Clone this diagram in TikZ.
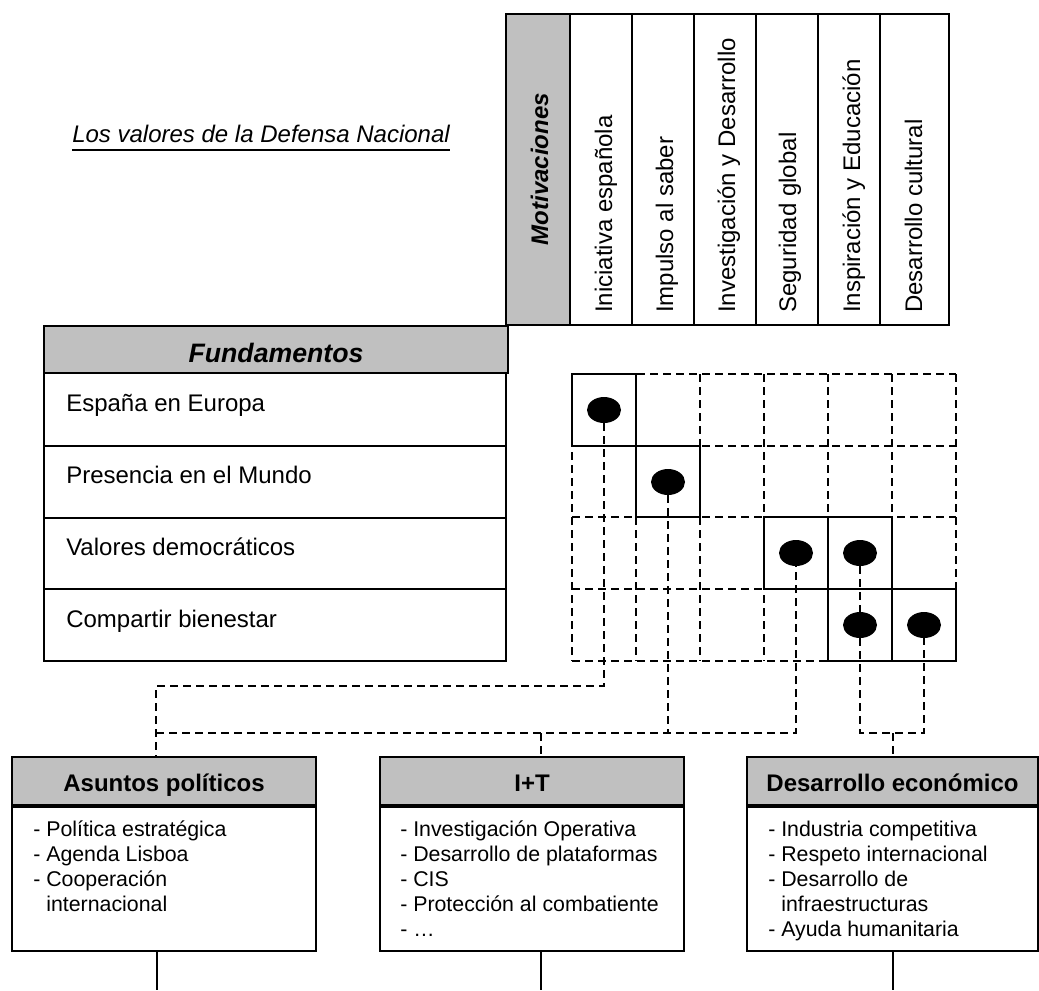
\documentclass[tikz,border=0pt]{standalone}
\usepackage{fontspec}
\setmainfont{Liberation Sans}
\usetikzlibrary{shapes.geometric}
\definecolor{hdrgray}{RGB}{192,192,192}
\newcommand\fbig{\fontsize{18}{21.6}\selectfont}
\newcommand\ffund{\fontsize{20}{24}\selectfont}
\newcommand\fsmall{\fontsize{16}{18.75}\selectfont}
\begin{document}
\begin{tikzpicture}[x=0.75pt, y=-0.75pt,
  frame/.style={draw=black, line width=1.3pt},
  dl/.style={draw=black, line width=1.3pt, dash pattern=on 6pt off 3.75pt},
  dotn/.style={ellipse, fill=black, minimum width=25.5pt, minimum height=19.5pt, inner sep=0pt},
  txt/.style={inner sep=0pt, font=\fbig},
  vtxt/.style={inner sep=0pt, font=\fbig, rotate=90, anchor=base west},
  rowtxt/.style={inner sep=0pt, font=\fbig, anchor=base west},
  hdrbox/.style={frame, fill=hdrgray, minimum height=36pt, inner sep=0pt},
  bodybox/.style={frame, fill=white, minimum height=108pt, inner sep=0pt, anchor=north},
  hdrtxt/.style={inner sep=0pt, font=\fbig\bfseries, anchor=base},
  listtxt/.style={inner sep=0pt, font=\fsmall, anchor=base west},
  trunk/.style={draw=black, line width=2.2pt}
]
\useasboundingbox (0,0) rectangle (1039,990);

% ---- title ----
\node[txt, font=\fbig\itshape, anchor=base west] (title) at (72,142) {Los valores de la Defensa Nacional};
\draw[line width=1.2pt] ([yshift=-6pt]title.base west) -- ([yshift=-6pt]title.base east);

% ---- Motivaciones header ----
\draw[frame, fill=hdrgray] (506,14) rectangle (570,325);
\draw[frame] (570,14) rectangle (949,325);
\foreach \cx in {632,694,756,818,880} \draw[frame] (\cx,14) -- (\cx,325);
\node[txt, font=\fbig\bfseries\itshape, rotate=90, anchor=base] (motiv) at (548,169) {Motivaciones};
\node[vtxt] (m1) at (612,313) {Iniciativa española};
\node[vtxt] (m2) at (673,313) {Impulso al saber};
\node[vtxt] (m3) at (735,313) {Investigación y Desarrollo};
\node[vtxt] (m4) at (796,313) {Seguridad global};
\node[vtxt] (m5) at (860,313) {Inspiración y Educación};
\node[vtxt] (m6) at (922,313) {Desarrollo cultural};

% ---- Fundamentos table ----
\draw[frame, fill=hdrgray] (44,326) rectangle (508,373);
\node[txt, font=\ffund\bfseries\itshape, anchor=base] (fund) at (276,362) {Fundamentos};
\draw[frame] (44,373) rectangle (506,661);
\foreach \ry in {446,518,589} \draw[frame] (44,\ry) -- (506,\ry);
\node[rowtxt] (f1) at (66,411) {España en Europa};
\node[rowtxt] (f2) at (66,483) {Presencia en el Mundo};
\node[rowtxt] (f3) at (66,555) {Valores democráticos};
\node[rowtxt] (f4) at (66,627) {Compartir bienestar};

% ---- relation grid ----
\foreach \gy in {374,446,517,589,661} \draw[dl] (572,\gy) -- (956,\gy);
\foreach \gx in {572,636,700,764,828,892,956} \draw[dl] (\gx,374) -- (\gx,661);
\draw[frame] (572,374) rectangle (636,446);
\draw[frame] (636,446) rectangle (700,517);
\draw[frame] (764,517) rectangle (828,589);
\draw[frame] (828,517) rectangle (892,589);
\draw[frame] (828,589) rectangle (892,661);
\draw[frame] (892,589) rectangle (956,661);
\node[dotn] (d11) at (604,410) {};
\node[dotn] (d22) at (668,482) {};
\node[dotn] (d34) at (796,553) {};
\node[dotn] (d35) at (860,553) {};
\node[dotn] (d45) at (860,625) {};
\node[dotn] (d46) at (924,625) {};

% ---- result boxes ----
\node[hdrbox, minimum width=228pt] (ah) at (164,781) {};
\node[bodybox, minimum width=228pt] (ab) at (ah.south) {};
\node[hdrtxt] (aht) at (164,791) {Asuntos políticos};
\node[listtxt] (al) at (33,836) {\begin{tabular}[t]{@{}l@{\ }l@{}}
- & Política estratégica\\
- & Agenda Lisboa\\
- & Cooperación\\
  & internacional
\end{tabular}};

\node[hdrbox, minimum width=228pt] (ith) at (532,781) {};
\node[bodybox, minimum width=228pt] (itb) at (ith.south) {};
\node[hdrtxt] (itt) at (532,791) {I+T};
\node[listtxt] (il) at (400,836) {\begin{tabular}[t]{@{}l@{\ }l@{}}
- & Investigación Operativa\\
- & Desarrollo de plataformas\\
- & CIS\\
- & Protección al combatiente\\
- & …
\end{tabular}};

\node[hdrbox, minimum width=218.25pt] (dh) at (892.5,781) {};
\node[bodybox, minimum width=218.25pt] (db) at (dh.south) {};
\node[hdrtxt] (dht) at (892.5,791) {Desarrollo económico};
\node[listtxt] (dl1) at (768,836) {\begin{tabular}[t]{@{}l@{\ }l@{}}
- & Industria competitiva\\
- & Respeto internacional\\
- & Desarrollo de\\
  & infraestructuras\\
- & Ayuda humanitaria
\end{tabular}};

% ---- dashed links from the grid to the boxes ----
\coordinate (ca) at (156,686);
\coordinate (bl) at (156,733);
\coordinate (bm) at (541,733);
\coordinate (br) at (893,733);
\draw[dl] (d11.south) |- (ca) -- (ca |- ah.north);
\draw[dl] (bl) -| (d34.south);
\draw[dl] (d22.south) -- (d22.south |- bl);
\draw[dl] (bm) -- (bm |- ith.north);
\draw[dl] (d35.south) -- (d45.north);
\draw[dl] (d45.south) |- (br) -| (d46.south);
\draw[dl] (br) -- (br |- dh.north);

% ---- solid trunks below the boxes ----
\coordinate (ea) at (157,990);
\coordinate (eb) at (541,990);
\coordinate (ec) at (893,990);
\draw[trunk] (ea |- ab.south) -- (ea);
\draw[trunk] (eb |- itb.south) -- (eb);
\draw[trunk] (ec |- db.south) -- (ec);
\end{tikzpicture}
\end{document}
